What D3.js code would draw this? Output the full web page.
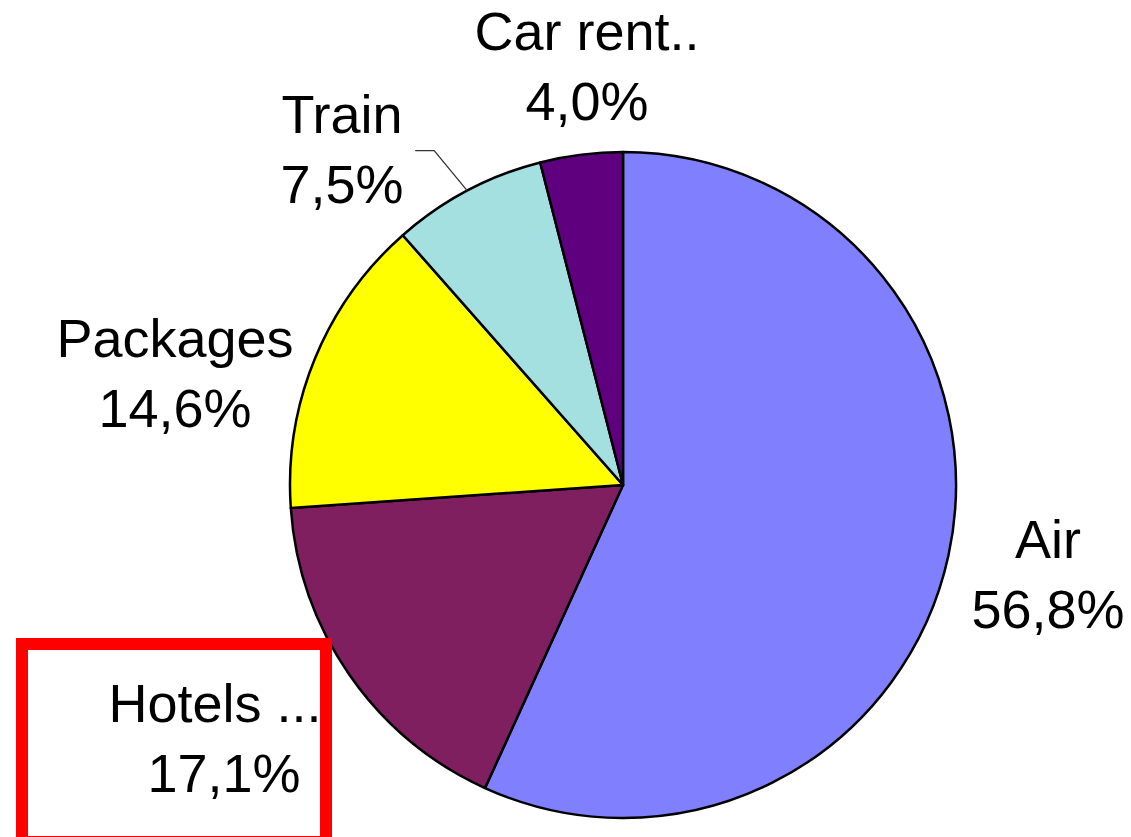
<!DOCTYPE html>
<html>
<head>
<meta charset="utf-8">
<script src="https://cdn.jsdelivr.net/npm/d3@7"></script>
<style>
  body { margin: 0; background: #fff; }
  text { font-family: "Liberation Sans", Arial, sans-serif; font-size: 54px; fill: #000; }
</style>
</head>
<body>
<div id="chart"></div>
<script>
var categories = ["Air", "Hotels ...", "Packages", "Train", "Car rent.."];
var shares = [56.8, 17.1, 14.6, 7.5, 4.0];
var shareLabels = ["56,8%", "17,1%", "14,6%", "7,5%", "4,0%"];
var colors = ["#8080ff", "#7f1f5f", "#ffff00", "#a4e0e0", "#5f007f"];

var width = 1131, height = 837,
  cx = 623, cy = 485, radius = 333;

// label anchor (centre x, first baseline) relative to the pie centre
var labelOffsets = {
  "Air": [425, 73],
  "Hotels ...": [-408, 237],
  "Packages": [-448, -128],
  "Train": [-281, -352],
  "Car rent..": [-36, -435]
};

var data = categories.map(function (c, i) {
  return { name: c, value: shares[i], label: shareLabels[i], color: colors[i] };
});

var pie = d3.pie()
  .sort(null)
  .value(function (d) { return d.value; });

var arc = d3.arc()
  .innerRadius(0)
  .outerRadius(radius);

var svg = d3.select("#chart").append("svg")
  .attr("width", width)
  .attr("height", height);

var g = svg.append("g")
  .attr("transform", "translate(" + cx + "," + cy + ")");

var arcs = pie(data);

g.selectAll(".slice")
  .data(arcs)
  .enter().append("path")
  .attr("class", "slice")
  .attr("d", arc)
  .style("fill", function (d) { return d.data.color; })
  .style("stroke", "#000")
  .style("stroke-width", 2.5)
  .style("stroke-linejoin", "round");

// leader line for Train
var train = arcs[3];
var mid = (train.startAngle + train.endAngle) / 2;
var edge = [Math.sin(mid) * radius, -Math.cos(mid) * radius];
var elbow = [edge[0] - 33, edge[1] - 40];
g.append("polyline")
  .attr("points", [edge, elbow, [elbow[0] - 19, elbow[1]]].map(function (p) { return p.join(","); }).join(" "))
  .style("fill", "none")
  .style("stroke", "#333")
  .style("stroke-width", 1.3);

var labels = g.selectAll(".label")
  .data(arcs)
  .enter().append("text")
  .attr("class", "label")
  .attr("text-anchor", "middle")
  .attr("transform", function (d) {
    var o = labelOffsets[d.data.name];
    return "translate(" + o[0] + "," + o[1] + ")";
  });

labels.append("tspan")
  .attr("x", 0)
  .attr("y", 0)
  .text(function (d) { return d.data.name; });

labels.append("tspan")
  .attr("x", function (d) { return d.data.name === "Hotels ..." ? 9 : 0; })
  .attr("y", 70)
  .text(function (d) { return d.data.label; });

// highlight box around the Hotels label
svg.append("rect")
  .attr("x", 22)
  .attr("y", 644)
  .attr("width", 304)
  .attr("height", 198)
  .style("fill", "none")
  .style("stroke", "#ff0000")
  .style("stroke-width", 12);
</script>
</body>
</html>
